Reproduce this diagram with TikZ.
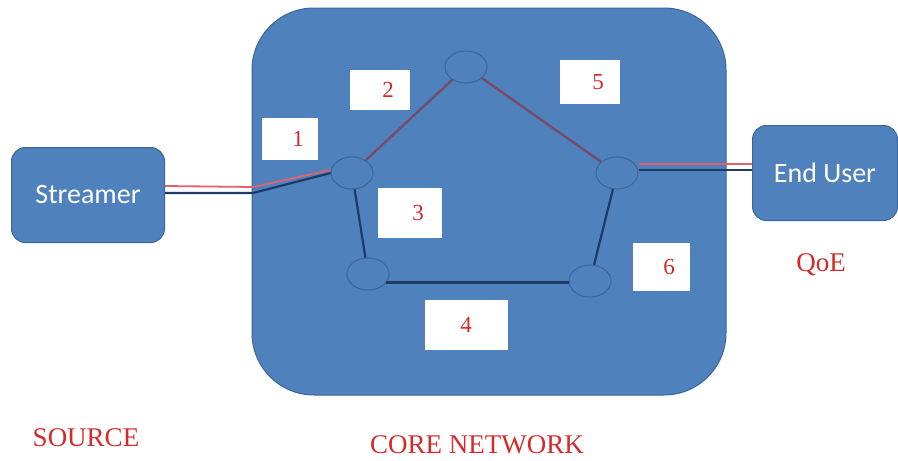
\documentclass[tikz,border=0pt]{standalone}
\usepackage{fontspec}
\setmainfont{Liberation Serif}
\newfontfamily\boxfont{Carlito}
\usetikzlibrary{shapes.geometric,positioning}

\definecolor{netblue}{HTML}{4F81BD}
\definecolor{netedge}{HTML}{3A669C}
\definecolor{linkred}{HTML}{E4606E}
\definecolor{linkdark}{HTML}{1F3A66}
\definecolor{labred}{HTML}{D42A2A}

\tikzset{
    endbox/.style={draw=netedge, line width=1pt, fill=netblue, rounded corners=14pt,
        minimum width=153pt, minimum height=95pt, text=white, font=\boxfont\fontsize{28}{30}\selectfont},
    router/.style={ellipse, draw=netedge, line width=1pt, fill=netblue, minimum width=42pt, minimum height=32pt},
    hoplabel/.style={fill=white, text=labred, font=\fontsize{23}{25}\selectfont, inner sep=0pt},
    tag/.style={text=labred, font=\fontsize{27}{29}\selectfont},
    redlink/.style={linkred, line width=1.8pt},
    darklink/.style={linkdark, line width=2.2pt},
    mixlink/.style={linkdark!55!linkred, line width=2.4pt},
}

\begin{document}
\begin{tikzpicture}[x=1pt, y=-1pt]
    \useasboundingbox (0,0) rectangle (898,461);

    % core network cloud
    \draw[netedge, line width=1pt, fill=netblue, rounded corners=62pt] (252,8) rectangle (726,395);

    % hop labels
    \node[hoplabel, minimum width=56pt, minimum height=42pt] (l1) at (290,139) {\hspace{16pt}1};
    \node[hoplabel, minimum width=60pt, minimum height=40pt] (l2) at (380,90) {\hspace{16pt}2};
    \node[hoplabel, minimum width=60pt, minimum height=44pt] (l5) at (590,82) {\hspace{16pt}5};
    \node[hoplabel, minimum width=64pt, minimum height=50pt] (l3) at (410,213) {\hspace{16pt}3};
    \node[hoplabel, minimum width=83pt, minimum height=50pt] (l4) at (466,325) {4};
    \node[hoplabel, minimum width=57pt, minimum height=48pt] (l6) at (661,267) {\hspace{16pt}6};

    % end systems
    \node[endbox] (src) at (88,195) {Streamer};
    \node[endbox, minimum width=145pt] (usr) at (825,173) {End User};

    % routers
    \node[router] (rtop) at (466,67) {}; % top router
    \node[router] (rl) at (352,173) {}; % left router, ingress
    \node[router] (rr) at (617,173) {}; % right router, egress
    \node[router] (rbl) at (368,274) {}; % bottom left router
    \node[router] (rbr) at (590,281) {}; % bottom right router

    \coordinate (bend) at (253,193); % where the access link enters the core

    % access link source -> core
    \draw[redlink] ([yshift=9pt]src.east) -- ([yshift=6pt]bend) -- ([yshift=3pt]rl.west);
    \draw[darklink] ([yshift=2pt]src.east) -- (bend) -- (rl.west);

    % upper path
    \draw[mixlink] (rl) -- (rtop);
    \draw[mixlink] (rtop) -- (rr);

    % lower path
    \draw[darklink] (rl) -- (rbl);
    \draw[darklink] (rbl.-25) -- (rbl.-25 -| rbr.west);
    \draw[darklink] (rbr) -- (rr);

    % access link core -> user
    \draw[redlink] ([yshift=9pt]rr.east) -- ([yshift=9pt]rr.east -| usr.west);
    \draw[darklink] ([yshift=3pt]rr.east) -- ([yshift=3pt]rr.east -| usr.west);

    % tags
    \node[tag] (qoe) at (821,265) {QoE};
    \node[tag] (source) at (86,438) {SOURCE};
    \node[tag] (core) at (477,445) {CORE NETWORK};
\end{tikzpicture}
\end{document}
